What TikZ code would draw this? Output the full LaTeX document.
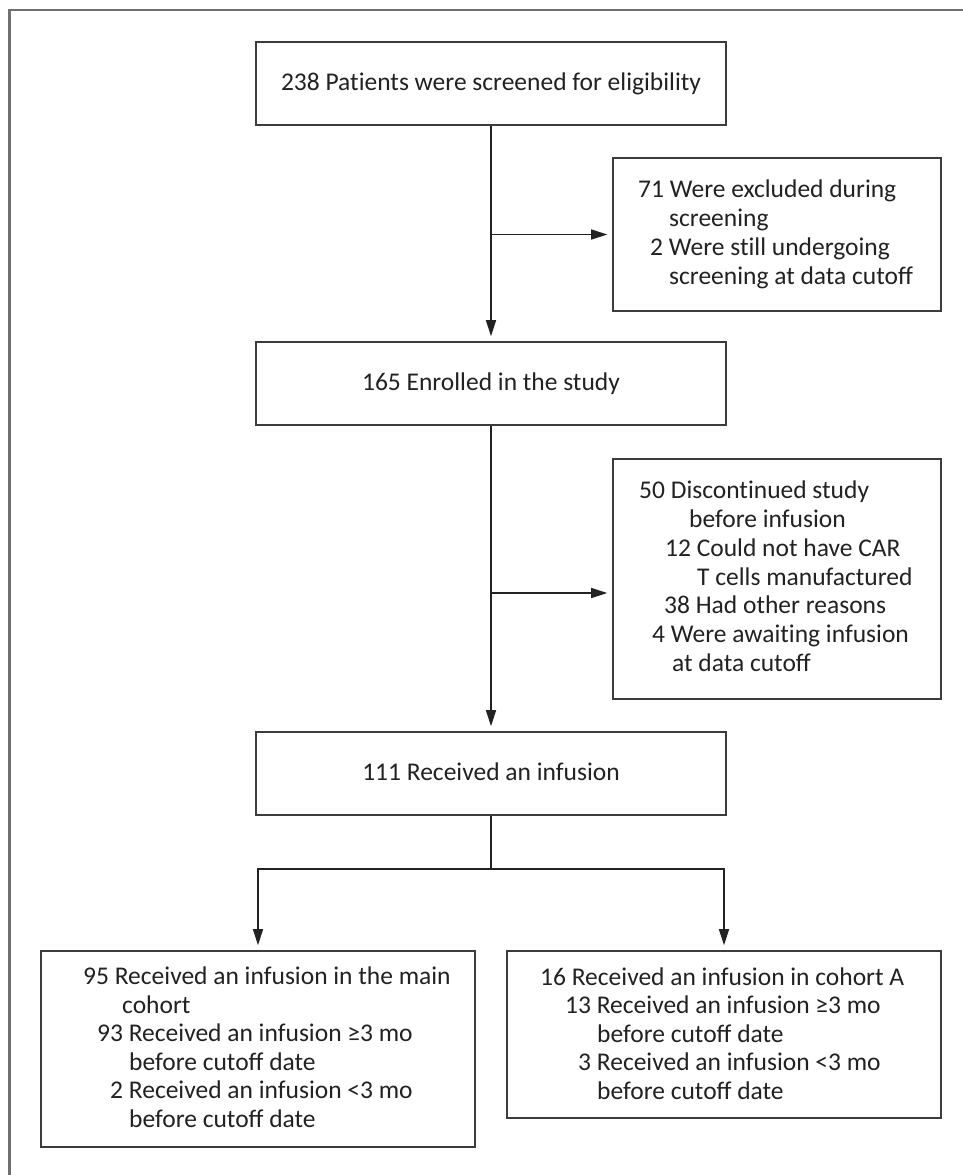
\documentclass[tikz,border=0pt]{standalone}
\usepackage{fontspec}
\setmainfont{Carlito}
\usetikzlibrary{arrows.meta,calc}
\definecolor{framegray}{HTML}{707070}
\definecolor{ink}{HTML}{222222}
\definecolor{boxline}{HTML}{3C3C3C}
\newcommand\nolig{\kern0pt}
\begin{document}
\begin{tikzpicture}[x=1pt,y=-1pt,
  boxst/.style={draw=boxline, line width=1.6pt, fill=white, inner sep=0pt,
    font=\fontsize{25.5pt}{29pt}\selectfont, text=ink, text height=18pt, text depth=4pt},
  ln/.style={anchor=base west, inner sep=0pt, font=\fontsize{25.5pt}{29pt}\selectfont, text=ink},
  conn/.style={draw=ink, line width=1.6pt},
  arr/.style={conn, -{Triangle[length=16pt,width=10pt]}, shorten >=5pt}]
\useasboundingbox (0,0) rectangle (963,1175);
\draw[framegray, line width=2.5pt] (963,10) -- (9.5,10) -- (9.5,1175);

% main boxes
\node[boxst, minimum width=470pt, minimum height=83pt] (b1) at (491,83.5) {238 Pat\nolig ients were screened for eligibility};
\node[boxst, minimum width=470pt, minimum height=83pt] (b2) at (491,383.5) {165 Enrolled in the study};
\node[boxst, minimum width=470pt, minimum height=83pt] (b3) at (491,773.5) {111 Received an infusion};

% side boxes
\node[boxst, minimum width=328pt, minimum height=153pt] (e1) at (777,234.5) {};
\node[boxst, minimum width=328pt, minimum height=240pt] (e2) at (777,579) {};

% bottom boxes
\node[boxst, minimum width=434pt, minimum height=196pt] (c1) at (258,1049) {};
\node[boxst, minimum width=434pt, minimum height=167pt] (c2) at (724,1034.5) {};

% text of side box 1
\node[ln] (e1a) at (638,197) {71 Were excluded during};
\node[ln] (e1b) at (669,226) {screening};
\node[ln] (e1c) at (650,255) {2 Were st\nolig ill undergoing};
\node[ln] (e1d) at (669,284) {screening at data cutoff};

% text of side box 2
\node[ln] (e2a) at (639,498.9) {50 Discont\nolig inued study};
\node[ln] (e2b) at (689,527.6) {before infusion};
\node[ln] (e2c) at (665,556.3) {12 Could not have CAR};
\node[ln] (e2d) at (697,585) {T cells manufactured};
\node[ln] (e2e) at (664,613.7) {38 Had other reasons};
\node[ln] (e2f) at (652,642.4) {4 Were await\nolig ing infusion};
\node[ln] (e2g) at (672,671.1) {at data cutoff};

% text of bottom left box
\node[ln] (c1a) at (83,984.5) {95 Received an infusion in the main};
\node[ln] (c1b) at (122,1013) {cohort};
\node[ln] (c1c) at (97,1041.5) {93 Received an infusion ≥3 mo};
\node[ln] (c1d) at (129,1070) {before cutoff date};
\node[ln] (c1e) at (110,1098.5) {2 Received an infusion <3 mo};
\node[ln] (c1f) at (129,1127) {before cutoff date};

% text of bottom right box
\node[ln] (c2a) at (540,985) {16 Received an infusion in cohort A};
\node[ln] (c2b) at (565,1013.5) {13 Received an infusion ≥3 mo};
\node[ln] (c2c) at (597,1042) {before cutoff date};
\node[ln] (c2d) at (578,1070.5) {3 Received an infusion <3 mo};
\node[ln] (c2e) at (597,1099) {before cutoff date};

% connectors
\coordinate (j1) at (b1.south |- e1.west);
\coordinate (j2) at (491,593);
\coordinate (j3) at ($(b3.south)+(0,53)$);
\draw[arr] (b1.south) -- (b2.north);
\draw[arr] (j1) -- (e1.west);
\draw[arr] (b2.south) -- (b3.north);
\draw[arr] (j2) -- (e2.west |- j2);
\draw[conn] (b3.south) -- (j3);
\draw[arr] (j3) -| (c1.north);
\draw[arr] (j3) -| (c2.north);
\end{tikzpicture}
\end{document}
